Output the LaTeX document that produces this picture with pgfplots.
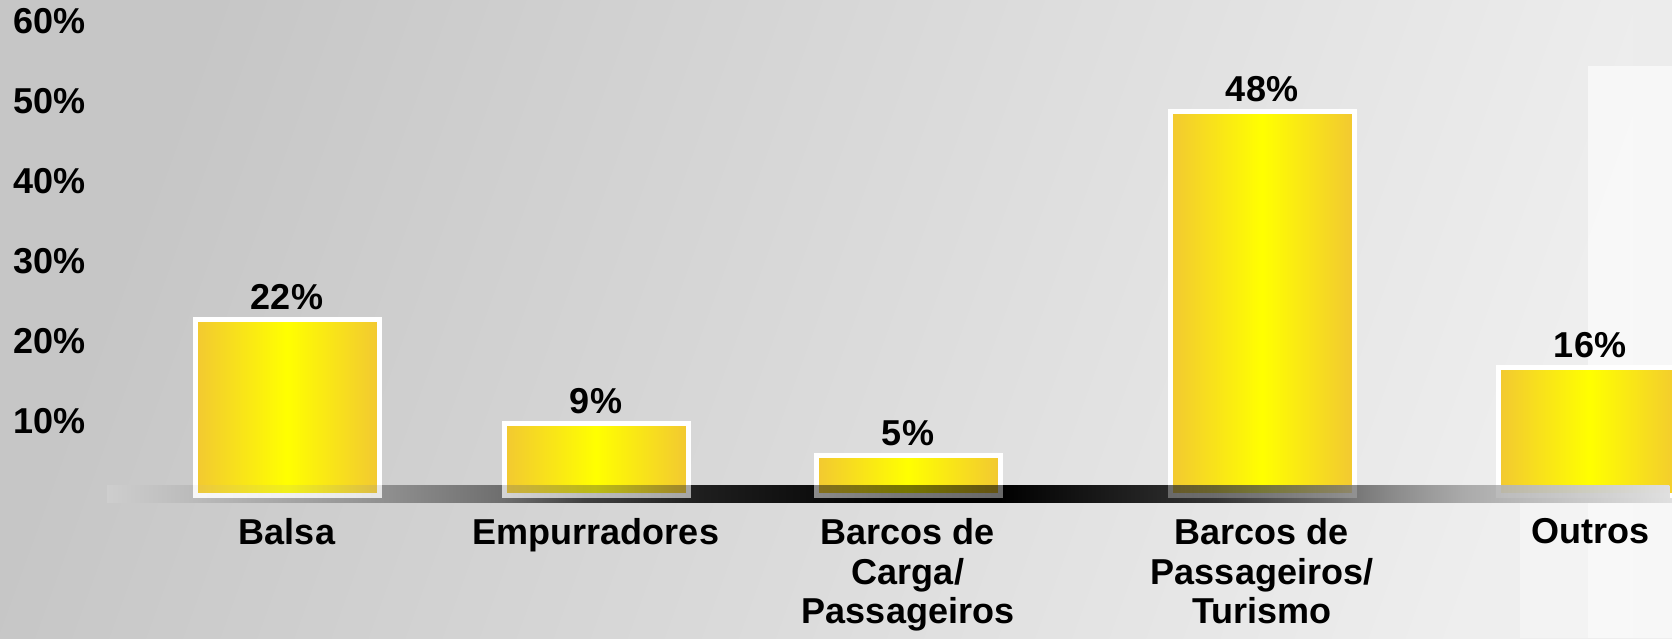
\documentclass[border=0pt]{standalone}
\usepackage{pgfplots}
\pgfplotsset{compat=1.18}
\usetikzlibrary{fadings}
\usepackage{fontspec}
\setmainfont{Liberation Sans}
\newcommand\lab{\fontsize{18}{19.8}\selectfont\bfseries}
\definecolor{barEdge}{RGB}{242,200,50}
\definecolor{barMid}{RGB}{255,255,0}
\definecolor{bgL}{RGB}{198,198,198}
\definecolor{bgR}{RGB}{238,238,238}
\definecolor{b1}{RGB}{206,206,206}
\definecolor{b2}{RGB}{142,142,142}
\definecolor{b3}{RGB}{110,110,110}
\definecolor{b4}{RGB}{64,64,64}
\definecolor{b5}{RGB}{30,30,30}
\definecolor{b6}{RGB}{8,8,8}
\definecolor{b7}{RGB}{0,0,0}
\definecolor{b8}{RGB}{20,20,20}
\definecolor{b9}{RGB}{51,51,51}
\definecolor{b10}{RGB}{106,106,106}
\definecolor{b11}{RGB}{142,142,142}
\definecolor{b12}{RGB}{171,171,171}
\definecolor{b13}{RGB}{224,224,224}
% band from x=107 to 1672 px mapped to 25bp..75bp
\pgfdeclarehorizontalshading{band}{100bp}{color(0bp)=(b1); color(25bp)=(b1);
 color(34.1bp)=(b2); color(37.7bp)=(b3); color(40.3bp)=(b4); color(44.0bp)=(b5);
 color(48.8bp)=(b6); color(50.4bp)=(b7); color(53.5bp)=(b7); color(56.1bp)=(b8);
 color(60.4bp)=(b9); color(64.1bp)=(b10); color(66.3bp)=(b11); color(68.4bp)=(b12);
 color(75bp)=(b13); color(100bp)=(b13)}
\tikzfading[name=bandfade, left color=transparent!95, middle color=transparent!0, right color=transparent!0]
\begin{document}
\begin{tikzpicture}
\shade[top color=bgL, bottom color=bgR, shading angle=70] (0,0) rectangle (836pt,319pt);
\fill[color={rgb,255:red,236;green,236;blue,236}] (816.5pt,0) rectangle (836pt,319pt);
\fill[white, opacity=0.6] (794pt,0) rectangle (836pt,286pt);
\fill[white, opacity=0.35] (760pt,0) rectangle (794pt,68.5pt);
\begin{axis}[
  at={(0,0)}, anchor=south west,
  scale only axis, width=836pt, height=319pt,
  xmin=0, xmax=1672, ymin=-17.875, ymax=61.875,
  axis x line=middle, axis y line=left,
  axis line style={draw=none},
  major tick length=0pt,
  /pgf/number format/assume math mode=true,
  ytick={10,20,30,40,50,60},
  yticklabel={\pgfmathprintnumber{\tick}\%},
  yticklabel style={anchor=west, xshift=6.5pt, yshift=-3.25pt, inner sep=0pt, font=\lab, text=black},
  xtick={287,596,908,1262,1590},
  xticklabels={Balsa, Empurradores, {Barcos de\\Carga/\\Passageiros}, {Barcos de\\Passageiros/\\Turismo}, Outros},
  xticklabel style={anchor=north, align=center, inner sep=0pt, yshift=-11.5pt, font=\lab, text=black},
  ybar, bar width=184, bar shift=0pt,
  nodes near coords={\pgfmathprintnumber{\pgfplotspointmeta}\%},
  every node near coord/.append style={font=\lab, anchor=base, inner sep=0pt, yshift=4.75pt, text=black},
  mybar/.style={draw=white, line width=2.5pt, left color=barEdge, right color=barEdge, middle color=barMid},
]
\shade[shading=band] (axis cs:107,1.25) rectangle (axis cs:1672,-0.875);
\addplot[mybar] coordinates {(287,22)};
\addplot[mybar] coordinates {(596,9)};
\addplot[mybar] coordinates {(908,5)};
\addplot[mybar] coordinates {(1262,48)};
\addplot[mybar] coordinates {(1590,16)};
\shade[shading=band, path fading=bandfade, fit fading=true] (axis cs:107,1.25) rectangle (axis cs:1672,-0.875);
\end{axis}
\pgfresetboundingbox
\path (0,0) rectangle (836pt,319pt);
\end{tikzpicture}
\end{document}
